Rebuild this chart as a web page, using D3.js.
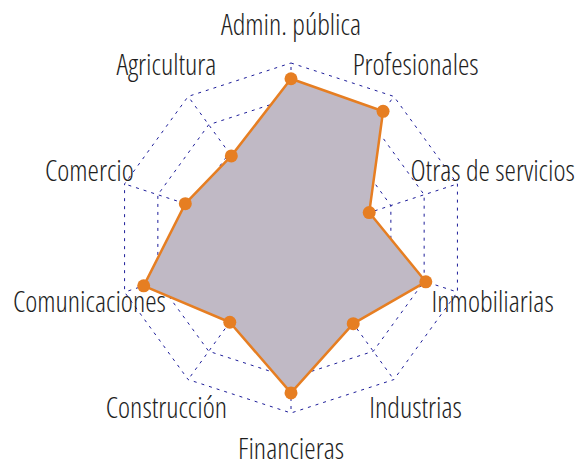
<!DOCTYPE html>
<html>
<head>
<meta charset="utf-8">
<script src="https://cdn.jsdelivr.net/npm/d3@7"></script>
<style>
  html, body { margin: 0; padding: 0; background: #fff; }
  svg { display: block; }
  .lbl { font-family: "Open Sans", "Liberation Sans Narrow", sans-serif; font-stretch: 75%; font-weight: 300; font-size: 28.8px; fill: #1e1e1e; }
</style>
</head>
<body>
<svg id="chart" width="579" height="462"></svg>
<script>
const categories = ["Admin. pública", "Profesionales", "Otras de servicios", "Inmobiliarias", "Industrias",
                    "Financieras", "Construcción", "Comunicaciones", "Comercio", "Agricultura"];
const values = [0.91, 0.895, 0.47, 0.81, 0.605, 0.885, 0.595, 0.885, 0.635, 0.58];
const gridLevels = [0.2, 0.4, 0.6, 0.8, 1.0];
const maxValue = 1.0;

const W = 579, H = 462;
const cx = 291, cy = 238, R = 175;
const svg = d3.select("#chart");
const g = svg.append("g").attr("transform", `translate(${cx},${cy})`);

const rScale = d3.scaleLinear().domain([0, maxValue]).range([0, R]);
const angle = d3.scaleLinear().domain([0, categories.length]).range([0, 2 * Math.PI]);
const px = (i, v) => rScale(v) * Math.sin(angle(i));
const py = (i, v) => -rScale(v) * Math.cos(angle(i));

const gridColor = "#1c1c99";
// grid polygons
gridLevels.forEach(lv => {
  const pts = categories.map((c, i) => [px(i, lv), py(i, lv)]);
  g.append("path")
    .attr("d", d3.line()(pts) + "Z")
    .attr("fill", "none")
    .attr("stroke", gridColor)
    .attr("stroke-width", 1)
    .attr("stroke-dasharray", "3,5");
});
// spokes
categories.forEach((c, i) => {
  g.append("line")
    .attr("x1", 0).attr("y1", 0)
    .attr("x2", px(i, maxValue)).attr("y2", py(i, maxValue))
    .attr("stroke", gridColor)
    .attr("stroke-width", 1)
    .attr("stroke-dasharray", "3,5");
});

// data polygon
const line = d3.lineRadial()
  .angle((d, i) => angle(i))
  .radius(d => rScale(d))
  .curve(d3.curveLinearClosed);
g.append("path")
  .attr("d", line(values))
  .attr("fill", "#c0b9c5")
  .attr("stroke", "#e67e22")
  .attr("stroke-width", 2.5)
  .attr("stroke-linejoin", "round");

g.selectAll("circle.pt").data(values).join("circle")
  .attr("class", "pt")
  .attr("cx", (d, i) => px(i, d))
  .attr("cy", (d, i) => py(i, d))
  .attr("r", 6.5)
  .attr("fill", "#e67e22");

// labels
const labelR = 212;
g.selectAll("text.lbl").data(categories).join("text")
  .attr("class", "lbl")
  .attr("text-anchor", "middle")
  .attr("x", (d, i) => labelR * Math.sin(angle(i)))
  .attr("y", (d, i) => -labelR * Math.cos(angle(i)) + 8.5)
  .text(d => d);
</script>
</body>
</html>
